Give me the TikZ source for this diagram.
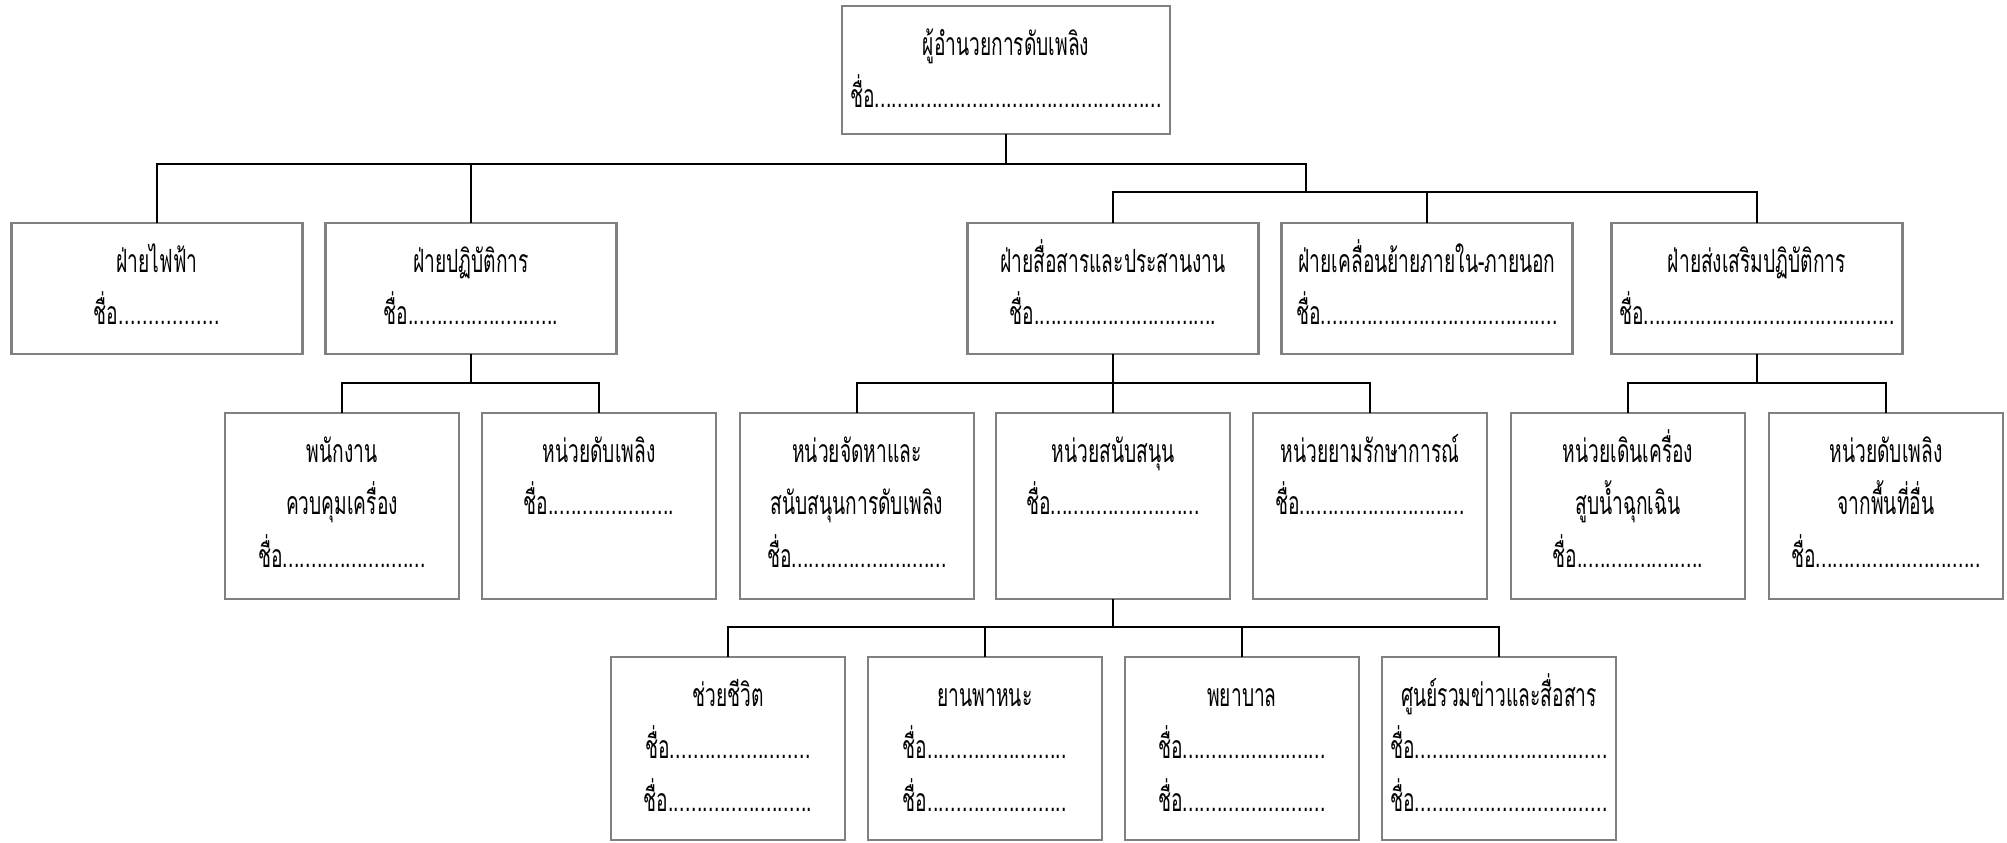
\documentclass[tikz,border=0pt]{standalone}
\usepackage{fontspec}
\setmainfont[Script=Thai,FakeStretch=0.6]{Loma}
\newdimen\pxu \pxu=0.5pt
\definecolor{boxgray}{RGB}{128,128,128}
\newcommand{\bxc}[3]{\parbox[c][#2\pxu][t]{#1\pxu}{\centering\lineskiplimit=-\maxdimen\baselineskip=26.25pt\rule{0pt}{24.5pt}#3\par}}
\newcommand{\nm}[1]{\leavevmode\hbox to #1\pxu{ชื่อ\xleaders\hbox to 2.85pt{.\hss}\hfill}}
\tikzset{
  orgbox/.style={draw=boxgray, line width=1.2pt, inner sep=0pt, outer sep=0pt, fill=white},
  conn/.style={draw=black, line width=1pt}
}
\begin{document}
\begin{tikzpicture}[x=0.5pt,y=-0.5pt,font=\fontsize{16pt}{26.25pt}\selectfont]
\useasboundingbox (0,0) rectangle (2007,842);
% top
\node[orgbox] (top) at (1006,70) {\bxc{328}{128}{ผู้อำนวยการดับเพลิง\\\nm{312}}};
% level 1
\node[orgbox] (b1) at (157,288.5) {\bxc{291}{131}{ฝ่ายไฟฟ้า\\\nm{127}}};
\node[orgbox] (b2) at (471,288.5) {\bxc{291}{131}{ฝ่ายปฏิบัติการ\\\nm{175}}};
\node[orgbox] (b3) at (1113,288.5) {\bxc{291}{131}{ฝ่ายสื่อสารและประสานงาน\\\nm{207}}};
\node[orgbox] (b4) at (1427,288.5) {\bxc{291}{131}{ฝ่ายเคลื่อนย้ายภายใน-ภายนอก\\\nm{262}}};
\node[orgbox] (b5) at (1757,288.5) {\bxc{291}{131}{ฝ่ายส่งเสริมปฏิบัติการ\\\nm{276}}};
% level 2
\node[orgbox] (c1) at (342,506) {\bxc{234}{186}{พนักงาน\\ควบคุมเครื่อง\\\nm{168}}};
\node[orgbox] (c2) at (599,506) {\bxc{234}{186}{หน่วยดับเพลิง\\\nm{151}}};
\node[orgbox] (c3) at (857,506) {\bxc{234}{186}{หน่วยจัดหาและ\\สนับสนุนการดับเพลิง\\\nm{180}}};
\node[orgbox] (c4) at (1113,506) {\bxc{234}{186}{หน่วยสนับสนุน\\\nm{174}}};
\node[orgbox] (c5) at (1370,506) {\bxc{234}{186}{หน่วยยามรักษาการณ์\\\nm{190}}};
\node[orgbox] (c6) at (1628,506) {\bxc{234}{186}{หน่วยเดินเครื่อง\\สูบน้ำฉุกเฉิน\\\nm{151}}};
\node[orgbox] (c7) at (1886,506) {\bxc{234}{186}{หน่วยดับเพลิง\\จากพื้นที่อื่น\\\nm{190}}};
% level 3
\node[orgbox] (d1) at (728,748.5) {\bxc{234}{183}{ช่วยชีวิต\\\nm{166}\\\nm{169}}};
\node[orgbox] (d2) at (985,748.5) {\bxc{234}{183}{ยานพาหนะ\\\nm{165}\\\nm{165}}};
\node[orgbox] (d3) at (1242,748.5) {\bxc{234}{183}{พยาบาล\\\nm{168}\\\nm{168}}};
\node[orgbox] (d4) at (1499,748.5) {\bxc{234}{183}{ศูนย์รวมข่าวและสื่อสาร\\\nm{218}\\\nm{218}}};
% buses
\coordinate (bus1) at (0,164);
\coordinate (bus2) at (0,192);
\coordinate (bus3) at (0,383);
\coordinate (bus4) at (0,627);
\coordinate (j1) at (1306,164);
% connectors
\draw[conn] (top.south) -- (top.south |- bus1);
\draw[conn] (b1.north) -- (b1.north |- bus1) -- (j1) -- (j1 |- bus2);
\draw[conn] (b2.north) -- (b2.north |- bus1);
\draw[conn] (b3.north) -- (b3.north |- bus2) -- (b5.north |- bus2) -- (b5.north);
\draw[conn] (b4.north) -- (b4.north |- bus2);
\draw[conn] (b2.south) -- (b2.south |- bus3);
\draw[conn] (c1.north) -- (c1.north |- bus3) -- (c2.north |- bus3) -- (c2.north);
\draw[conn] (b3.south) -- (b3.south |- bus3);
\draw[conn] (c3.north) -- (c3.north |- bus3) -- (c5.north |- bus3) -- (c5.north);
\draw[conn] (c4.north) -- (c4.north |- bus3);
\draw[conn] (b5.south) -- (b5.south |- bus3);
\draw[conn] (c6.north) -- (c6.north |- bus3) -- (c7.north |- bus3) -- (c7.north);
\draw[conn] (c4.south) -- (c4.south |- bus4);
\draw[conn] (d1.north) -- (d1.north |- bus4) -- (d4.north |- bus4) -- (d4.north);
\draw[conn] (d2.north) -- (d2.north |- bus4);
\draw[conn] (d3.north) -- (d3.north |- bus4);
\end{tikzpicture}
\end{document}
